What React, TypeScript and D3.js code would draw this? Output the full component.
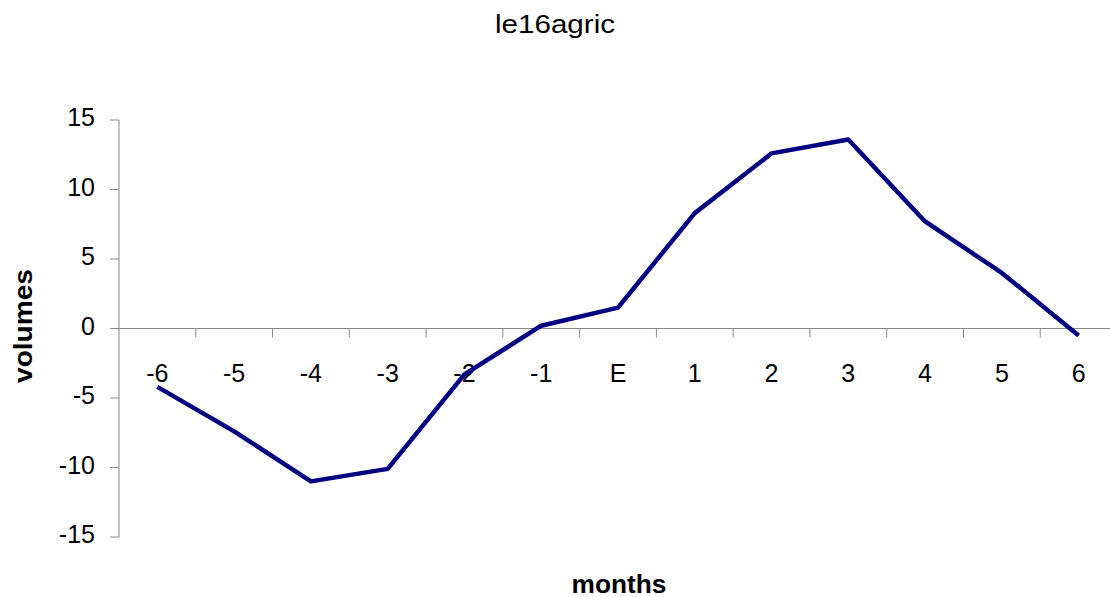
import React from "react";
import * as d3 from "d3";

const categories = ["-6", "-5", "-4", "-3", "-2", "-1", "E", "1", "2", "3", "4", "5", "6"];
const values = [-4.2, -7.4, -11.0, -10.1, -3.3, 0.2, 1.5, 8.3, 12.6, 13.6, 7.7, 4.0, -0.5];
const yTicks = [-15, -10, -5, 0, 5, 10, 15];

const W = 1110;
const H = 597;
const left = 119;
const right = 1117;
const top = 120;
const bottom = 537;
const font = "'Liberation Sans', Arial, sans-serif";

export default function App() {
  const x = d3.scaleBand<string>().domain(categories).range([left, right]).padding(0);
  const y = d3.scaleLinear().domain([-15, 15]).range([bottom, top]);
  const line = d3
    .line<number>()
    .x((_, i) => (x(categories[i]) as number) + x.bandwidth() / 2)
    .y((d) => y(d));
  const y0 = y(0);
  const boundaries = d3.range(categories.length + 1).map((i) => left + i * x.bandwidth());

  return (
    <svg width={W} height={H} style={{ position: "absolute", left: 0, top: 0, background: "#fff" }}>
      <text x={555} y={33} textAnchor="middle" fontFamily={font} fontSize={26} fill="#000"
        textLength={120} lengthAdjust="spacingAndGlyphs">
        le16agric
      </text>
      {/* y axis */}
      <line x1={left} x2={left} y1={top} y2={bottom} stroke="#888" strokeWidth={1} />
      {yTicks.map((t) => (
        <g key={t}>
          <line x1={left - 9} x2={left} y1={y(t)} y2={y(t)} stroke="#888" strokeWidth={1} />
          <text
            x={95}
            y={y(t) + 6}
            textAnchor="end"
            fontFamily={font}
            fontSize={25}
            fill="#000"
          >
            {t}
          </text>
        </g>
      ))}
      {/* x axis at zero */}
      <line x1={left} x2={W} y1={y0} y2={y0} stroke="#888" strokeWidth={1} />
      {boundaries.slice(1).map((b, i) => (
        <line key={i} x1={b} x2={b} y1={y0} y2={y0 + 9} stroke="#888" strokeWidth={1} />
      ))}
      {categories.map((c) => (
        <text
          key={c}
          x={(x(c) as number) + x.bandwidth() / 2}
          y={382}
          textAnchor="middle"
          fontFamily={font}
          fontSize={25}
          fill="#000"
        >
          {c}
        </text>
      ))}
      <path d={line(values) || ""} fill="none" stroke="#000080" strokeWidth={4.5} strokeLinejoin="round" />
      <text
        transform={`translate(32, 326) rotate(-90)`}
        textAnchor="middle"
        fontFamily={font}
        fontSize={25}
        fontWeight="bold"
        fill="#000"
        textLength={114}
        lengthAdjust="spacingAndGlyphs"
      >
        volumes
      </text>
      <text x={619} y={593} textAnchor="middle" fontFamily={font} fontSize={25} fontWeight="bold" fill="#000"
        textLength={95} lengthAdjust="spacingAndGlyphs">
        months
      </text>
    </svg>
  );
}
